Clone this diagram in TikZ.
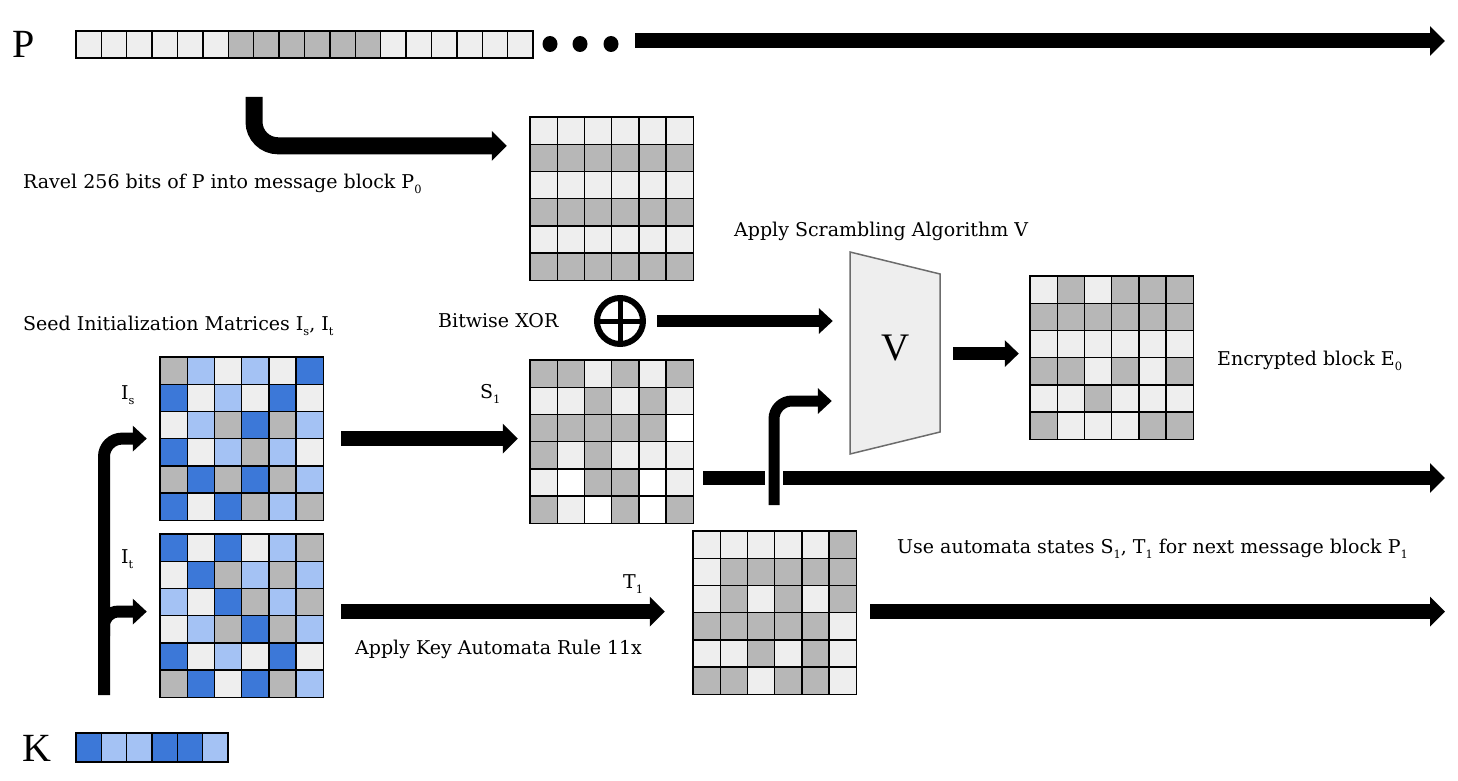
\documentclass[tikz,border=0pt]{standalone}
\usepackage{fontspec}
\setmainfont{DejaVu Serif}
\newfontfamily\bigserif{Liberation Serif}
\usepackage{graphicx}
\usetikzlibrary{arrows.meta,calc}

\definecolor{cellG}{HTML}{B7B7B7}
\definecolor{cellE}{HTML}{EEEEEE}
\definecolor{cellW}{HTML}{FFFFFF}
\definecolor{cellB}{HTML}{3C78D8}
\definecolor{cellL}{HTML}{A4C2F4}

\newcommand{\lowsub}[1]{\raisebox{-0.6ex}{\scalebox{0.6}{#1}}}
% 6x6 block: name, top left x, top left y, rows
\newcommand{\bitgrid}[4]{%
	\foreach \row [count=\ri from 0] in {#4}{
		\foreach \c [count=\ci from 0] in \row{
			\filldraw[fill=cell\c,draw=black,line width=1.4pt] ({#2+\ci*27.2},{#3+\ri*27.2}) rectangle ++(27.2,27.2);
		}
	}
	\node[inner sep=0,minimum width=163.2pt,minimum height=163.2pt] (#1) at ({#2+81.6},{#3+81.6}) {};
}

\begin{document}
\begin{tikzpicture}[x=1pt,y=-1pt,font=\fontsize{19}{22}\selectfont,
	bigarrow/.style={line width=15pt,-{Triangle[width=29pt,length=15pt]}},
	smallarrow/.style={line width=12pt,-{Triangle[width=25pt,length=14pt]}},
	txt/.style={anchor=base west,inner sep=0}]
	\useasboundingbox (0,0) rectangle (1458,781);
	%P STRIP
	\node[anchor=base west,inner sep=0,font=\bigserif\fontsize{40}{40}\selectfont] (plbl) at (12,58) {P};
	\foreach \i in {0,...,17}{
		\pgfmathsetmacro{\col}{(\i>5 && \i<12) ? "cellG" : "cellE"}
		\filldraw[fill=\col,draw=black,line width=1.4pt] ({76+\i*25.39},31) rectangle ++(25.39,27);
	}
	\node[inner sep=0,minimum width=457pt,minimum height=27pt] (pstrip) at (304.5,44.5) {};
	\foreach \x in {550,580,611}
		\fill (\x,44) ellipse (7.5 and 8);
	\coordinate (ptail) at (635,41);
	\coordinate (pout) at (1445,41);
	\draw[bigarrow] (ptail) -- (pout);
	%RAVEL
	\coordinate (ravel) at (254,97);
	\bitgrid{P0}{530}{117}{{E,E,E,E,E,E},{G,G,G,G,G,G},{E,E,E,E,E,E},{G,G,G,G,G,G},{E,E,E,E,E,E},{G,G,G,G,G,G}}
	\draw[bigarrow,line width=17pt,rounded corners=24pt] (ravel) |- ($(P0.north west)+(-23,29)$);
	\node[txt] (ravellbl) at (23,188) {Ravel 256 bits of P into message block P\lowsub{0}};
	%SEEDS
	\node[txt] (seedlbl) at (23,330) {Seed Initialization Matrices I\lowsub{s}, I\lowsub{t}};
	\bitgrid{Is}{160}{357}{{G,L,E,L,E,B},{B,E,L,E,B,E},{E,L,G,B,G,L},{B,E,L,G,L,E},{G,B,G,B,G,L},{B,E,B,G,L,G}}
	\bitgrid{It}{160}{534}{{B,E,B,E,L,G},{E,B,G,L,G,L},{L,E,B,G,L,G},{E,L,G,B,G,L},{B,E,L,E,B,E},{G,B,E,B,G,L}}
	\node[txt] (islbl) at (121,399) {I\lowsub{s}};
	\node[txt] (itlbl) at (121,563) {I\lowsub{t}};
	%K
	\node[anchor=base west,inner sep=0,font=\bigserif\fontsize{40}{40}\selectfont] (klbl) at (22,761) {K};
	\foreach \i/\col in {0/cellB,1/cellL,2/cellL,3/cellB,4/cellB,5/cellL}
		\filldraw[fill=\col,draw=black,line width=1.4pt] ({76+\i*25.33},733) rectangle ++(25.33,29);
	\coordinate (kup) at (104,695);
	\coordinate (kjoin) at (104,636);
	\draw[smallarrow,rounded corners=18pt] (kup) |- ($(Is.west)+(-13,0)$);
	\draw[smallarrow,rounded corners=14pt] (kjoin) |- ($(It.west)+(-13,-4)$);
	%XOR AND S1
	\node[txt] (xorlbl) at (438,327) {Bitwise XOR};
	\node[draw,circle,line width=6pt,minimum size=46pt,inner sep=0] (xor) at (620,321) {};
	\draw[line width=5pt] (xor.north) -- (xor.south) (xor.west) -- (xor.east);
	\bitgrid{S1}{530}{360}{{G,G,E,G,E,G},{E,E,G,E,G,E},{G,G,G,G,G,W},{G,E,G,E,E,E},{E,W,G,G,W,E},{G,E,W,G,W,G}}
	\node[txt] (s1lbl) at (480,398) {S\lowsub{1}};
	\draw[bigarrow] ($(Is.east)+(18,0)$) -- ($(S1.west |- Is.east)+(-12,0)$);
	%SCRAMBLER
	\node[txt] (scrlbl) at (734,236) {Apply Scrambling Algorithm V};
	\draw[fill=cellE,draw=gray!85!black,line width=1.5pt] (850,252) -- (940,274) -- (940,432) -- (850,454) -- cycle;
	\node[inner sep=0,minimum width=90pt,minimum height=202pt] (scr) at (895,353) {};
	\node[font=\bigserif\fontsize{39}{39}\selectfont] (vlbl) at (896,348) {V};
	\draw[smallarrow] ($(xor.east)+(11,0)$) -- ($(scr.west |- xor)+(-17,0)$);
	%E0
	\bitgrid{E0}{1030}{276}{{E,G,E,G,G,G},{G,G,G,G,G,G},{E,E,E,E,E,E},{G,G,E,G,E,G},{E,E,G,E,E,E},{G,E,E,E,G,G}}
	\draw[line width=13pt,-{Triangle[width=26pt,length=14pt]}] ($(scr.east |- E0)+(13,-4)$) -- ($(E0.west)+(-11,-4)$);
	\node[txt] (e0lbl) at (1217,365) {Encrypted block E\lowsub{0}};
	%STATES OUT
	\coordinate (sleft) at (703,478);
	\coordinate (sgap) at (765,478);
	\coordinate (sright) at (783,478);
	\coordinate (sout) at (1445,478);
	\coordinate (sup) at (774,505);
	\draw[line width=14pt] (sleft) -- (sgap);
	\draw[bigarrow,line width=14pt] (sright) -- (sout);
	\draw[smallarrow,line width=11pt,rounded corners=18pt] (sup) |- ($(scr.west)+(-18,48)$);
	%T1
	\bitgrid{T1}{693}{531}{{E,E,E,E,E,G},{E,G,G,G,G,G},{E,G,E,G,E,G},{G,G,G,G,G,E},{E,E,G,E,G,E},{G,G,E,G,G,E}}
	\node[txt] (t1lbl) at (623,588) {T\lowsub{1}};
	\draw[bigarrow] ($(It.east)+(18,-4)$) -- ($(T1.west |- It.east)+(-28,-4)$);
	\node[txt] (rulelbl) at (355,654) {Apply Key Automata Rule 11x};
	\coordinate (tout) at (1445,611.6);
	\draw[bigarrow] ($(T1.east |- tout)+(14,0)$) -- (tout);
	\node[txt] (nextlbl) at (897,553) {Use automata states S\lowsub{1}, T\lowsub{1} for next message block P\lowsub{1}};
\end{tikzpicture}
\end{document}
